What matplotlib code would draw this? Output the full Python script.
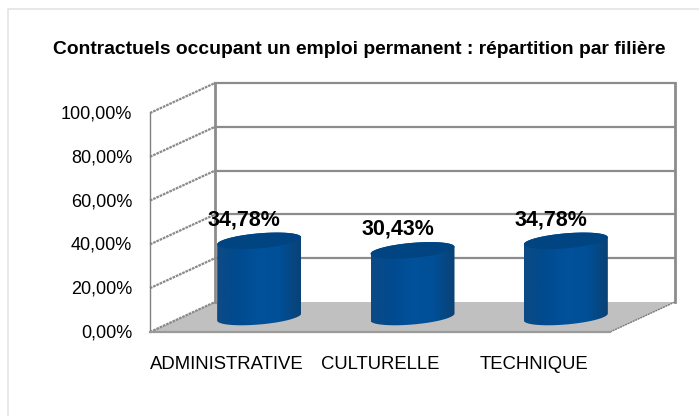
import numpy as np
import matplotlib
matplotlib.use("Agg")
import matplotlib.pyplot as plt
from matplotlib.patches import Polygon, PathPatch
from matplotlib.path import Path
from matplotlib.colors import LinearSegmentedColormap

title = "Contractuels occupant un emploi permanent : répartition par filière"
categories = ["ADMINISTRATIVE", "CULTURELLE", "TECHNIQUE"]
values = [34.78, 30.43, 34.78]
value_labels = ["34,78%", "30,43%", "34,78%"]
ticks = [0, 20, 40, 60, 80, 100]
tick_labels = ["0,00%", "20,00%", "40,00%", "60,00%", "80,00%", "100,00%"]

W, H = 699, 416
plt.rcParams["font.family"] = ["Liberation Sans", "DejaVu Sans"]
fig = plt.figure(figsize=(W / 100, H / 100), dpi=100, facecolor="white")

# outer chart frame (top and left edges only are visible)
fig.add_artist(plt.Line2D([7.5 / W, 7.5 / W, 1], [0, 1 - 9 / H, 1 - 9 / H], transform=fig.transFigure,
                          color="#e2e2e2", lw=1.1))

L, R, T, B = 150, 610, 113, 332
ax = fig.add_axes([L / W, 1 - B / H, (R - L) / W, (B - T) / H])
ax.set_xlim(-0.5, 2.5)
ax.set_ylim(0, 100)
ax.axis("off")

px = 3 / (R - L)
py = 100 / (B - T)
dx, dy = 65 * px, 30 * py
x0, x1 = -0.5, 2.5
GRID = "#8c8c8c"

ax.add_patch(Polygon([(x0, 0), (x1, 0), (x1 + dx, dy), (x0 + dx, dy)], fc="#c0c0c0", ec="none", clip_on=False, zorder=1))
for t in ticks:
    ax.plot([x0, x0 + dx], [t, t + dy], color="#8a8a8a", lw=1.6, ls=(0, (1.2, 0.4)), clip_on=False, zorder=2)
    if t > 0:
        ax.plot([x0 + dx, x1 + dx], [t + dy, t + dy], color=GRID, lw=1.6, clip_on=False, zorder=2)
ax.plot([x0, x1], [0, 0], color="#9a9a9a", lw=1.6, clip_on=False, zorder=3)
ax.plot([x1, x1 + dx], [0, dy], color="#7a7a7a", lw=1.0, ls=(0, (1.5, 0.5)), clip_on=False, zorder=2)
ax.plot([x0, x0], [0, 100], color="#808080", lw=1.0, clip_on=False, zorder=2)
ax.plot([x0 + dx, x0 + dx], [dy, 100 + dy], color=GRID, lw=2.0, clip_on=False, zorder=2)
ax.plot([x1 + dx, x1 + dx], [dy, 100 + dy], color=GRID, lw=2.0, clip_on=False, zorder=2)

cmap = LinearSegmentedColormap.from_list("cyl", ["#0c4a85", "#004a8f", "#00529b", "#004f97", "#0a4274"])
a, b, tilt = 42 * px, 7.5 * py, 3.5 * py

def ell(cx, cy, s, e):
    t = np.linspace(s, e, 61)
    return cx + a * np.cos(t), cy + b * np.sin(t) + tilt * np.cos(t)

for i, v in enumerate(values):
    cx, cy0 = i + dx / 2, dy / 2
    cy1 = cy0 + v
    xb, yb = ell(cx, cy0, np.pi, 2 * np.pi)
    xt, yt = ell(cx, cy1, 0, np.pi)
    pts = np.r_[np.c_[xb, yb], np.c_[xt, yt], [[xb[0], yb[0]]]]
    patch = PathPatch(Path(pts), fc="none", ec="none", clip_on=False, zorder=4)
    ax.add_patch(patch)
    im = ax.imshow(np.linspace(0, 1, 128)[None, :], cmap=cmap, aspect="auto", zorder=4,
                   extent=[cx - a, cx + a, cy0 - 20, cy1 + 20], clip_on=True)
    im.set_clip_path(patch)
    ex, ey = ell(cx, cy1, 0, 2 * np.pi)
    ax.fill(ex, ey, color="#004482", lw=0, zorder=5, clip_on=False)
    ax.text(cx - 15 * px, cy1 + 21 * py, value_labels[i], ha="center", va="center",
            fontsize=15.5, fontweight="bold", color="black", zorder=6, clip_on=False)
    ax.text(i + 0.003, -15, categories[i], ha="center", va="center",
            fontsize=13.3, color="black", clip_on=False)
ax.set_xlim(-0.5, 2.5)
ax.set_ylim(0, 100)

for t, lab in zip(ticks, tick_labels):
    ax.text(x0 - 18 * px, t - 1 * py, lab, ha="right", va="center", fontsize=13, color="black", clip_on=False)

fig.text(359 / W, 1 - 50 / H, title, ha="center", va="center", fontsize=13.9, fontweight="bold", color="black")
fig.savefig("out.png", dpi=100)
